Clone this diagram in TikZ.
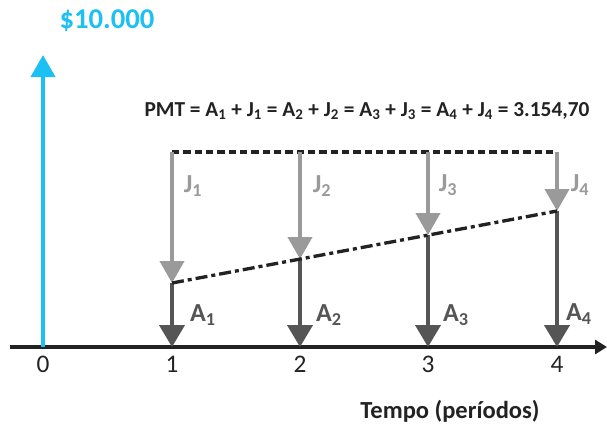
\documentclass[tikz,border=0pt]{standalone}
\usepackage{fontspec}
\setmainfont{Carlito}
\usetikzlibrary{arrows.meta}
\definecolor{cblue}{HTML}{1CC0F2}
\definecolor{lgray}{HTML}{9A9A9A}
\definecolor{dgray}{HTML}{555555}
\definecolor{ink}{HTML}{222222}
\tikzset{
  jarrow/.style={draw=lgray, line width=3pt, -{Triangle[width=18pt,length=16.5pt]}},
  aarrow/.style={draw=dgray, line width=3pt, -{Triangle[width=18.75pt,length=16.5pt]}},
  jlabel/.style={text=lgray, font=\fontsize{19.5}{20}\selectfont\bfseries, inner sep=0pt},
  alabel/.style={text=dgray, font=\fontsize{19.5}{20}\selectfont\bfseries, inner sep=0pt},
  tick/.style={text=ink, font=\fontsize{19}{20}\selectfont, inner sep=0pt},
}
\begin{document}
\begin{tikzpicture}[x=0.75pt,y=-0.75pt]
\useasboundingbox (0,0) rectangle (607,430);
% coordinates
\coordinate (ax0) at (10,347);
\coordinate (ax1) at (607,347);
\coordinate (b0) at (43,347);
\coordinate (b1) at (43,55);
\foreach \i/\x/\y in {1/172/283,2/300/259,3/428/235,4/557/211}{
  \coordinate (top\i) at (\x,152);
  \coordinate (mid\i) at (\x,\y);
  \coordinate (bot\i) at (\x,347);
}
% axis
\draw[ink, line width=2.5pt, -{Triangle[width=10.5pt,length=9pt]}] (ax0) -- (ax1);
% blue arrow
\draw[cblue, line width=3pt, -{Triangle[width=18pt,length=16.5pt]}] (b0) -- (b1);
\node[text=cblue, font=\fontsize{21.5}{22}\selectfont\bfseries, inner sep=0pt] (val) at (107,21) {\$10.000};
% dashed top line
\draw[ink, line width=2.4pt, dash pattern=on 5.5pt off 3pt] (top1) -- (top4);
% J and A arrows
\foreach \i in {1,...,4}{
  \draw[jarrow] (top\i) -- (mid\i);
  \draw[aarrow] (mid\i) -- (bot\i);
}
% dash-dot line
\draw[ink, line width=2.5pt, dash pattern=on 9pt off 3pt on 3pt off 3pt] (mid1) -- (mid4);
% labels
\node[jlabel] (j1) at (193,186) {J\textsubscript{1}};
\node[jlabel] (j2) at (322,186) {J\textsubscript{2}};
\node[jlabel] (j3) at (448,185) {J\textsubscript{3}};
\node[jlabel] (j4) at (580,185) {J\textsubscript{4}};
\node[alabel] (a1) at (203,315) {A\textsubscript{1}};
\node[alabel] (a2) at (329,315) {A\textsubscript{2}};
\node[alabel] (a3) at (456,315) {A\textsubscript{3}};
\node[alabel] (a4) at (579,314) {A\textsubscript{4}};
\node[tick] (t0) at (43,364) {0};
\node[tick] (t1) at (172,364) {1};
\node[tick] (t2) at (300,364) {2};
\node[tick] (t3) at (428,364) {3};
\node[tick] (t4) at (557,364) {4};
\node[text=ink, font=\fontsize{16}{17}\selectfont\bfseries, inner sep=0pt] (pmt) at (367,111)
  {PMT = A\textsubscript{1} + J\textsubscript{1} = A\textsubscript{2} + J\textsubscript{2} = A\textsubscript{3} + J\textsubscript{3} = A\textsubscript{4} + J\textsubscript{4} = 3.154,70};
\node[text=ink, font=\fontsize{18.4}{19}\selectfont\bfseries, inner sep=0pt] (tempo) at (450,411) {Tempo (períodos)};
\end{tikzpicture}
\end{document}
